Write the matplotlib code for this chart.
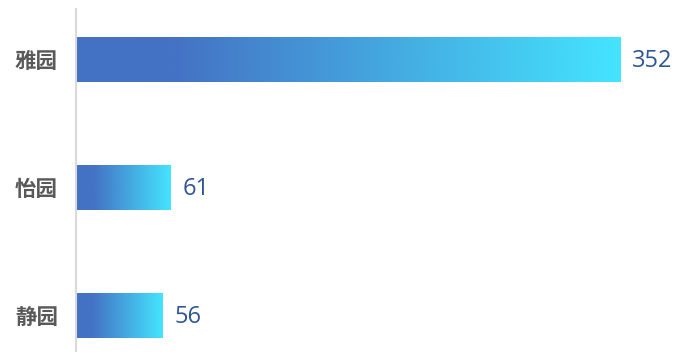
import numpy as np
import matplotlib.pyplot as plt
from matplotlib.colors import LinearSegmentedColormap

categories = ["雅园", "怡园", "静园"]
values = [352, 61, 56]

plt.rcParams['font.family'] = ['Noto Sans CJK SC', 'DejaVu Sans']

fig = plt.figure(figsize=(6.75, 3.52), dpi=100)
ax = fig.add_axes([76 / 675, 0, 599 / 675, 343 / 352])

cmap = LinearSegmentedColormap.from_list(
    "bar_grad", [(0, "#4472C4"), (0.18, "#4472C4"), (1, "#44E4FF")])
grad = np.linspace(0, 1, 256).reshape(1, -1)

bar_h = 0.35
for i, (cat, v) in enumerate(zip(categories, values)):
    ax.imshow(grad, cmap=cmap, aspect='auto', interpolation='bicubic',
              extent=[0, v, i + bar_h / 2, i - bar_h / 2])
    ax.annotate(str(v), xy=(v, i), xytext=(12, -1), textcoords='offset pixels',
                va='center', ha='left', fontsize=17, color='#2F5597',
                family=['Open Sans', 'DejaVu Sans'])

ax.set_xlim(0, 352 * 599 / 544)
ax.set_ylim(2 + 36 / 128, -51 / 128)
ax.set_yticks(range(len(categories)))
ax.set_yticklabels(categories, fontsize=15.5, fontweight='bold', color='#595959')
ax.tick_params(axis='y', length=0, pad=13)
ax.set_xticks([])
for side in ['top', 'right', 'bottom']:
    ax.spines[side].set_visible(False)
ax.spines['left'].set_color('#D9D9D9')
ax.spines['left'].set_linewidth(1.5)

fig.savefig("out.png", dpi=100)
